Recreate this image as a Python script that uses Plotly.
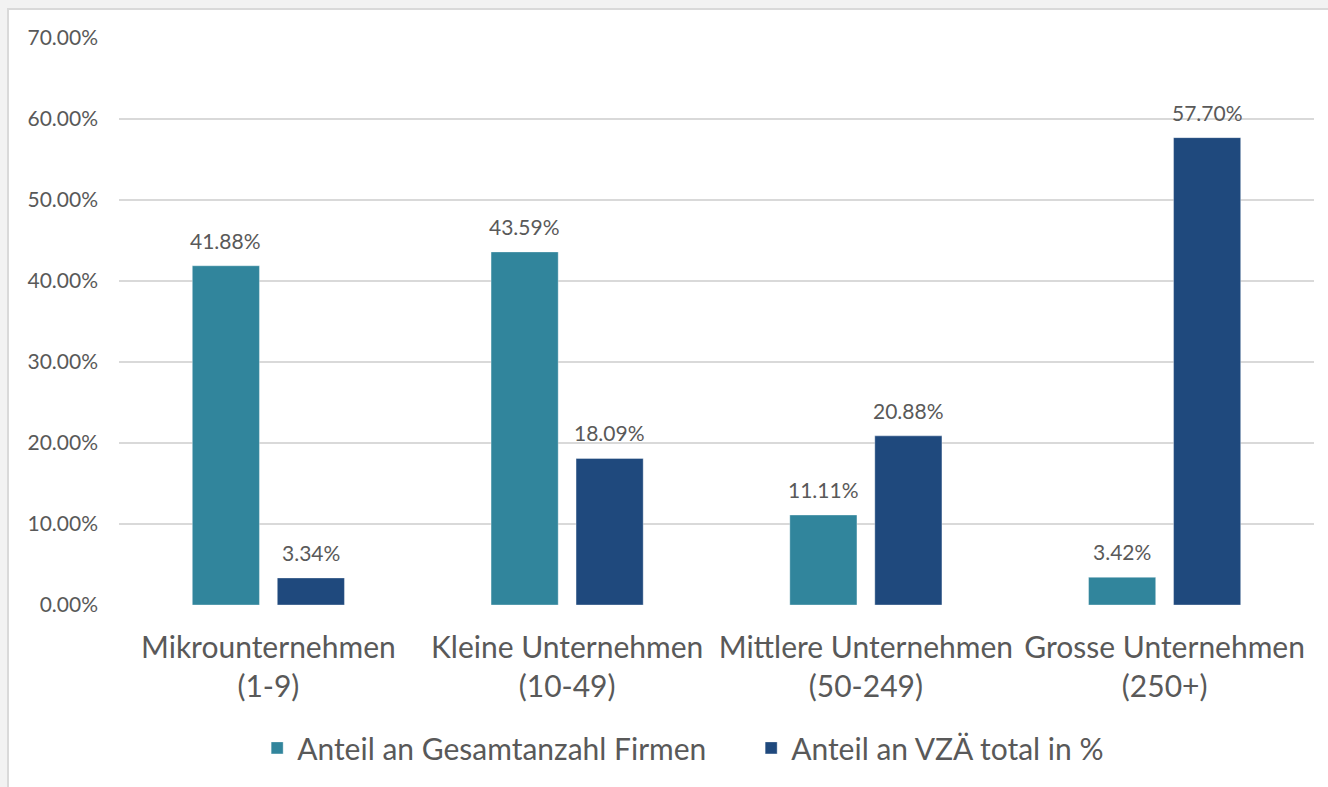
import plotly.graph_objects as go

categories = ["Mikrounternehmen<br>(1-9)", "Kleine Unternehmen<br>(10-49)",
              "Mittlere Unternehmen<br>(50-249)", "Grosse Unternehmen<br>(250+)"]
series_names = ["Anteil an Gesamtanzahl Firmen", "Anteil an VZÄ total in %"]
firmen = [41.88, 43.59, 11.11, 3.42]
vza = [3.34, 18.09, 20.88, 57.70]
y_ticks = [0, 10, 20, 30, 40, 50, 60, 70]
y_ticktext = [f"{v:.2f}%" for v in y_ticks]

colors = ["#31859C", "#1F497D"]
FONT = "Lato"
TXT = "#595959"

W, H = 1328, 787
L, R, T, B = 119, 14, 38, 182
pw = W - L - R
ph = H - T - B

bargap = 0.431
slot_px = pw / len(categories) * (1 - bargap) / 2

fig = go.Figure()
annotations = []
for i, (name, vals, col) in enumerate(zip(series_names, [firmen, vza], colors)):
    fig.add_trace(go.Bar(
        name=name, x=categories, y=vals,
        marker=dict(color=col, line=dict(color="rgba(255,255,255,0.35)", width=1)),
    ))
    shift = (i - 0.5) * slot_px
    for c, v in zip(categories, vals):
        annotations.append(dict(
            x=c, y=v, xref="x", yref="y", text=f"{v:.2f}%", showarrow=False,
            xshift=shift, yshift=11, yanchor="bottom",
            font=dict(family=FONT, size=21, color=TXT)))

fig.add_shape(type="rect", xref="paper", yref="paper",
              x0=(8 - L) / pw, x1=(W + 20 - L) / pw,
              y0=-(H - T - ph + 20) / ph, y1=(T + ph - 9) / ph,
              fillcolor="white", line=dict(color="#D9D9D9", width=2), layer="below")

fig.update_layout(
    width=W, height=H,
    margin=dict(l=L, r=R, t=T, b=B, autoexpand=False),
    paper_bgcolor="#F2F2F2", plot_bgcolor="rgba(0,0,0,0)",
    barmode="group", bargap=bargap, bargroupgap=0.21,
    font=dict(family=FONT, color=TXT),
    showlegend=True,
    annotations=annotations,
    legend=dict(orientation="h", x=0.529, xanchor="center", y=-0.252, yanchor="middle",
                font=dict(family=FONT, size=30, color=TXT), itemwidth=30,
                entrywidth=449,
                bgcolor="rgba(0,0,0,0)", traceorder="normal"),
    xaxis=dict(showgrid=False, showline=False, zeroline=False, ticks="",
               tickfont=dict(family=FONT, size=30, color=TXT), ticklabelstandoff=22),
    yaxis=dict(range=[0, 70], tickvals=y_ticks, ticktext=y_ticktext,
               showgrid=True, gridcolor="#D9D9D9", gridwidth=2, zeroline=False,
               showline=False, ticks="", ticklabelstandoff=20,
               tickfont=dict(family=FONT, size=21, color=TXT)),
)

fig.write_html("out.html", config={"displayModeBar": False},
               post_script="document.body.style.margin='0';")
